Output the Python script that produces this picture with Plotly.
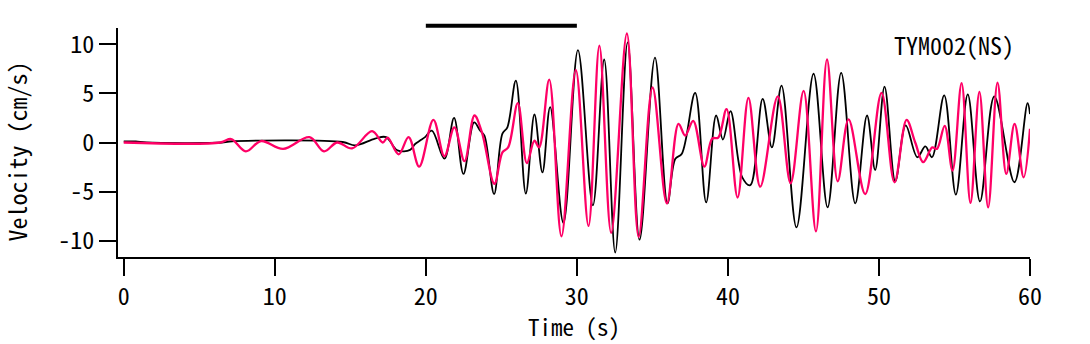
import plotly.graph_objects as go

# ---- data ----
black_t = [0, 0.8, 1.5, 6.5, 7.0, 14.5, 15.32, 16.64, 17.37, 18.12, 18.96, 19.29, 19.62, 19.95, 20.40,
           21.23, 21.87, 22.49, 23.20, 23.60, 23.88, 24.52, 25.07, 25.40, 25.96,
           26.62, 27.19, 27.72, 28.23, 29.11, 30.07, 31.06, 31.81, 32.54, 33.36,
           34.15, 35.17, 36.00, 36.52, 36.95, 37.83, 38.56, 39.22, 39.67, 40.17,
           40.95, 41.48, 42.30, 42.91, 43.55, 44.54, 45.67, 46.60, 47.50, 48.43,
           49.21, 49.75, 50.37, 51.08, 51.77, 52.54, 53.07, 53.51, 54.32, 55.09,
           55.88, 56.69, 57.64, 58.97, 59.84, 60.0]
black_v = [0.1, 0.1, 0.0, 0.0, 0.1, 0.05, -0.3, 0.4, 0.55, -0.8, -0.75, -0.15, 0.2, 0.55, 1.2,
           -1.65, 2.5, -3.2, 2.05, 1.2, 0.7, -5.25, 0.9, 1.55, 6.3,
           -5.2, 2.85, -3.05, 3.6, -8.2, 9.4, -6.4, 8.45, -11.2, 10.2,
           -9.9, 8.65, -6.2, -1.65, -1.15, 5.05, -6.1, 2.75, 0.3, 3.2,
           -3.55, -4.35, 4.45, -0.5, 5.8, -8.65, 7.0, -6.6, 7.1, -6.2,
           2.75, -2.8, 5.7, -3.95, 1.75, -1.5, -0.4, -1.5, 4.8, -5.3,
           4.9, -6.0, 4.7, -4.05, 4.0, 2.9]

pink_t = [0, 6.4, 7.11, 8.08, 9.09, 10.55, 12.30, 13.26, 14.13, 15.12,
          16.44, 17.15, 17.47, 18.20, 18.86, 19.56, 20.50, 21.23, 21.89, 22.56,
          23.22, 23.71, 24.54, 25.07, 25.45, 26.09, 26.69, 27.19, 27.50, 28.17,
          28.98, 29.93, 30.77, 31.49, 32.27, 33.31, 34.09, 35.01, 35.96, 36.73,
          37.17, 37.70, 38.44, 38.96, 39.36, 39.91, 40.64, 41.36, 42.14, 43.30,
          44.15, 45.01, 45.83, 46.56, 47.27, 47.99, 49.09, 50.17, 51.03, 51.83,
          52.40, 52.93, 53.53, 53.84, 54.35, 54.87, 55.47, 56.06, 56.65, 57.23,
          57.85, 58.43, 58.98, 59.58, 60.0]
pink_v = [0, 0, 0.35, -0.9, 0.15, -0.65, 0.55, -0.9, 0.0, -0.6,
          1.15, 0.0, 0.5, -1.2, 0.55, -2.45, 2.3, -1.4, 1.55, -1.9,
          2.75, 1.05, -4.2, -1.0, -0.5, 4.0, -2.1, 0.2, -0.5, 6.4,
          -9.55, 7.4, -8.5, 9.85, -9.2, 11.1, -9.6, 5.6, -6.2, 1.9,
          0.7, 2.2, -2.45, 0.4, 0.5, 3.4, -5.6, 4.55, -4.5, 4.7,
          -4.15, 5.25, -9.05, 8.45, -3.95, 2.35, -5.25, 5.05, -4.05, 2.3,
          0.0, -2.0, -0.5, -0.65, 1.7, -2.85, 6.05, -6.15, 5.15, -6.6,
          6.1, -3.2, 1.9, -3.55, 1.4]

x_ticks = [0, 10, 20, 30, 40, 50, 60]
x_ticktext = ["0", "10", "20", "30", "40", "50", "60"]
y_ticks = [-10, -5, 0, 5, 10]
y_ticktext = ["-10", "-5", "0", "5", "10"]
window = [20, 30]
station = "TYM002(NS)"

FONT = "Noto Sans Mono CJK JP, DejaVu Sans Mono, monospace"

fig = go.Figure()
fig.add_trace(go.Scatter(x=black_t, y=black_v, mode="lines",
                         line=dict(color="black", width=1.8, shape="spline", smoothing=1.0),
                         showlegend=False, hoverinfo="skip"))
fig.add_trace(go.Scatter(x=pink_t, y=pink_v, mode="lines",
                         line=dict(color="#ff0066", width=2.3, shape="spline", smoothing=1.0),
                         showlegend=False, hoverinfo="skip"))

fig.add_shape(type="line", xref="x", yref="paper", x0=window[0], x1=window[1],
              y0=1.010, y1=1.010, line=dict(color="black", width=4))

fig.add_annotation(text=station, xref="paper", yref="paper", x=0.985, y=0.930,
                   xanchor="right", yanchor="middle", showarrow=False,
                   font=dict(family=FONT, size=24, color="black"))
fig.add_annotation(text="Velocity (cm/s)", xref="paper", yref="paper", x=-0.111, y=0.46,
                   xanchor="center", yanchor="middle", textangle=-90, showarrow=False,
                   font=dict(family=FONT, size=24, color="black"))
fig.add_annotation(text="Time (s)", xref="paper", yref="paper", x=0.5, y=-0.303,
                   xanchor="center", yanchor="middle", showarrow=False,
                   font=dict(family=FONT, size=23, color="black"))

fig.update_layout(
    width=1090, height=344,
    margin=dict(l=118, r=60, t=28, b=87),
    paper_bgcolor="white", plot_bgcolor="white",
    font=dict(family=FONT, size=24, color="black"),
    xaxis=dict(range=[-0.38, 60], tickvals=x_ticks, ticktext=x_ticktext,
               ticks="outside", ticklen=17, tickwidth=2, tickcolor="black",
               showline=True, linewidth=2, linecolor="black",
               showgrid=False, zeroline=False, ticklabelstandoff=0),
    yaxis=dict(range=[-11.66, 11.66], tickvals=y_ticks, ticktext=y_ticktext,
               ticks="outside", ticklen=17, tickwidth=2, tickcolor="black",
               showline=True, linewidth=2, linecolor="black",
               showgrid=False, zeroline=False),
)

# remove the browser's default 8 px body margin so the figure fills the window exactly
fig.write_html("out.html", config={"displayModeBar": False},
               post_script="document.body.style.margin='0';")
